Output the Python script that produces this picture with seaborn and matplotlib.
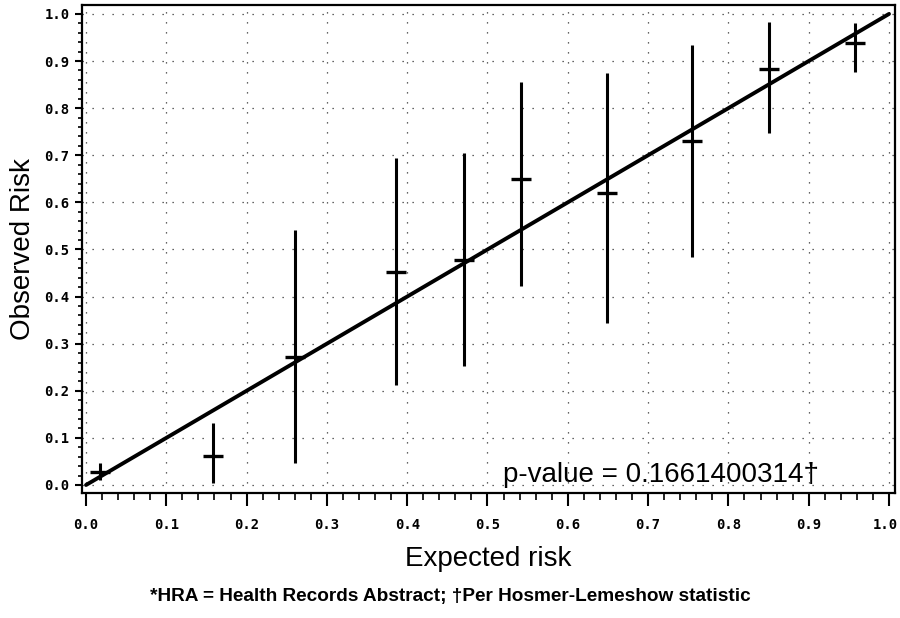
import matplotlib
matplotlib.use("Agg")
import matplotlib.pyplot as plt
import matplotlib.transforms as mtransforms
from matplotlib.ticker import MultipleLocator, FormatStrFormatter
import seaborn as sns
import pandas as pd

# Calibration data (deciles of expected risk)
expected = [0.017, 0.158, 0.26, 0.386, 0.471, 0.542, 0.649, 0.755, 0.851, 0.958]
observed = [0.028, 0.062, 0.272, 0.452, 0.478, 0.650, 0.620, 0.730, 0.883, 0.938]
ci_low = [0.011, 0.004, 0.047, 0.212, 0.253, 0.423, 0.344, 0.484, 0.747, 0.877]
ci_high = [0.047, 0.132, 0.541, 0.694, 0.705, 0.856, 0.875, 0.934, 0.983, 0.981]
ref_line_x = [0.0, 1.0]
ref_line_y = [0.0, 1.0]
tick_values = [0.0, 0.1, 0.2, 0.3, 0.4, 0.5, 0.6, 0.7, 0.8, 0.9, 1.0]
p_value_text = "p-value = 0.1661400314\u2020"
x_label = "Expected risk"
y_label = "Observed Risk"
footnote = "*HRA = Health Records Abstract; \u2020Per Hosmer-Lemeshow statistic"

df = pd.DataFrame({"expected": expected, "observed": observed,
                   "low": ci_low, "high": ci_high})
ref = pd.DataFrame({"x": ref_line_x, "y": ref_line_y})

sns.set_theme(style="white")
plt.rcParams['font.family'] = ['Liberation Sans', 'DejaVu Sans']

fig = plt.figure(figsize=(9, 6.18), dpi=100)
ax = fig.add_axes([82 / 900, 1 - 493 / 618, (895 - 82) / 900, (493 - 5) / 618])

# grid
ax.set_axisbelow(True)
ax.grid(True, which="major", color="#333333", linestyle=(0, (1, 7)), linewidth=0.9)

# error bars
ax.vlines(df["expected"], df["low"], df["high"], color="black", linewidth=2.2, zorder=3)

# reference diagonal
sns.lineplot(data=ref, x="x", y="y", ax=ax, color="black", linewidth=2.8, zorder=4)

# observed marks
sns.scatterplot(data=df, x="expected", y="observed", ax=ax, marker="_", s=190,
                color="black", linewidth=2.4, zorder=5, edgecolor="black")

ax.set_xlim(-0.005, 1.0075)
ax.set_ylim(-0.017, 1.019)
ax.set_xticks(tick_values)
ax.set_yticks(tick_values)
ax.xaxis.set_minor_locator(MultipleLocator(0.02))
ax.yaxis.set_minor_locator(MultipleLocator(0.02))
ax.xaxis.set_major_formatter(FormatStrFormatter("%.1f"))
ax.yaxis.set_major_formatter(FormatStrFormatter("%.1f"))

for s in ax.spines.values():
    s.set_color("black")
    s.set_linewidth(1.6)

ax.tick_params(axis="x", which="major", length=9, width=1.5, direction="out", pad=9,
               color="black", bottom=True)
ax.tick_params(axis="x", which="minor", length=5, width=1.2, direction="out",
               color="black", bottom=True)
ax.tick_params(axis="y", which="major", length=5, width=1.5, direction="out", pad=4,
               color="black", left=True)
ax.tick_params(axis="y", which="minor", length=3, width=1.2, direction="out",
               color="black", left=True)
for lab in ax.get_xticklabels() + ax.get_yticklabels():
    lab.set_fontfamily("DejaVu Sans Mono")
    lab.set_fontweight("bold")
    lab.set_fontsize(10)
    lab.set_color("black")

# nudge the last x tick label so it stays inside the figure
last = ax.get_xticklabels()[-1]
last.set_transform(last.get_transform() +
                   mtransforms.ScaledTranslation(-4 / 100, 0, fig.dpi_scale_trans))

ax.set_xlabel(x_label, fontsize=20, color="black", labelpad=10)
ax.set_ylabel(y_label, fontsize=20, color="black", labelpad=6)

ax.text(0.519, 0.006, p_value_text, fontsize=20, color="black",
        ha="left", va="baseline", zorder=6)

fig.text(0.5, 1 - 597 / 618, footnote, fontsize=13.7, fontweight="bold",
         color="black", ha="center", va="center")

fig.savefig("out.png", dpi=100)
